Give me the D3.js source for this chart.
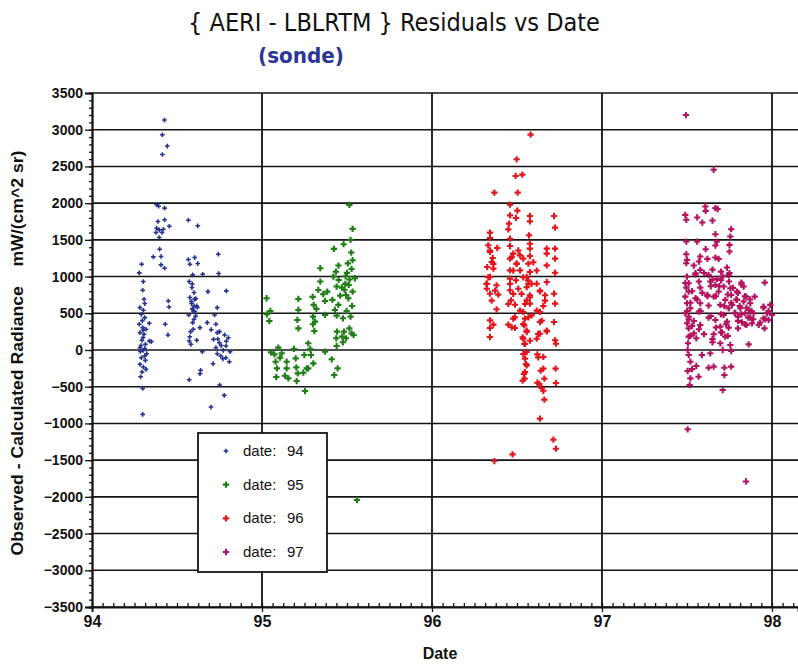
<!DOCTYPE html>
<html lang="en">
<head>
    <meta charset="UTF-8">
    <title>AERI - LBLRTM Residuals vs Date</title>
    <script src="https://cdn.jsdelivr.net/npm/d3@7/dist/d3.min.js"></script>
    <style>
        body { margin: 0; background: #fff; }
        svg { display: block; }
    </style>
</head>
<body>
<script>

    // categories (year of the measurement) and their colours
    let categories = ["94", "95", "96", "97"];
    let colors = ["#26328f", "#1f7d16", "#e4141c", "#b3125f"];

    // tick values
    let yTicks = [-3500, -3000, -2500, -2000, -1500, -1000, -500, 0, 500, 1000, 1500, 2000, 2500, 3000, 3500];
    let xTicks = [94, 95, 96, 97, 98];

    // residuals [date, value]
    let pts94 = [
        [94.426, 3131], [94.414, 2931], [94.443, 2777], [94.414, 2663],
        [94.38, 1977], [94.392, 1959], [94.427, 1932], [94.388, 1750], [94.427, 1773], [94.455, 1686], [94.38, 1659],
        [94.396, 1636], [94.42, 1645], [94.376, 1600], [94.412, 1600], [94.396, 1532],
        [94.567, 1768], [94.622, 1691], [94.398, 1373], [94.361, 1268], [94.406, 1273], [94.406, 1159], [94.427, 1114],
        [94.292, 1168], [94.278, 1050], [94.302, 932], [94.298, 814],
        [94.567, 1232], [94.604, 1259], [94.576, 1168], [94.622, 1177], [94.592, 1023], [94.651, 1032], [94.572, 932],
        [94.588, 850], [94.6, 782], [94.576, 714], [94.604, 691], [94.586, 632], [94.616, 600], [94.596, 532],
        [94.569, 477], [94.61, 464], [94.592, 373], [94.596, 282], [94.635, 305], [94.572, 123], [94.582, 77],
        [94.616, 132], [94.649, -23], [94.639, -277], [94.635, -323], [94.572, -405],
        [94.743, 1305], [94.745, 1041], [94.682, 795], [94.79, 805], [94.737, 577], [94.721, 477], [94.678, 373],
        [94.729, 350], [94.701, 277], [94.737, 236], [94.78, 205], [94.802, 168], [94.715, 145], [94.749, 100],
        [94.788, 55], [94.729, 32], [94.772, -5], [94.737, -50], [94.812, -23], [94.788, -105], [94.757, -82],
        [94.808, -159], [94.712, -186], [94.751, -477], [94.778, -618], [94.70, -777],
        [94.306, 691], [94.31, 632], [94.282, 577], [94.302, 541], [94.29, 486], [94.31, 441], [94.278, 350],
        [94.298, 305], [94.318, 282], [94.282, 236], [94.306, 214], [94.337, 123], [94.294, 132], [94.314, 77],
        [94.282, 32], [94.302, -5], [94.322, -50], [94.29, -105], [94.314, -141], [94.282, -195], [94.302, -232],
        [94.318, -264], [94.286, -364], [94.298, -523], [94.298, -877], [94.337, 364], [94.449, 668], [94.453, 586],
        [94.431, 350], [94.447, 205], [94.349, 114], [94.296, 400], [94.30, 170], [94.288, 60], [94.31, -80],
        [94.294, -300], [94.59, 560], [94.60, 420], [94.58, 250], [94.575, 180], [94.61, 700], [94.62, 580],
        [94.59, 900], [94.74, 150], [94.76, 60], [94.77, -120], [94.30, 270], [94.285, -20], [94.31, 20],
        [94.60, 600], [94.585, 660], [94.605, 520], [94.75, 250], [94.79, 120]
    ];

    let pts95 = [
        [95.514, 1977], [95.533, 1650], [95.521, 1500], [95.48, 1441], [95.423, 1377], [95.525, 1327], [95.533, 1223],
        [95.527, 1104], [95.435, 1068], [95.343, 1114], [95.492, 1004], [95.547, 977], [95.451, 954], [95.343, 932],
        [95.51, 886], [95.439, 864], [95.331, 818], [95.384, 795], [95.533, 795], [95.494, 750], [95.298, 723],
        [95.214, 695], [95.027, 705], [95.414, 682], [95.371, 668], [95.508, 705], [95.449, 614], [95.304, 614],
        [95.214, 545], [95.429, 545], [95.049, 532], [95.498, 532], [95.029, 486], [95.371, 477], [95.439, 468],
        [95.30, 455], [95.521, 455], [95.208, 409], [95.476, 432], [95.043, 395], [95.312, 386], [95.214, 295],
        [95.441, 250], [95.308, 259], [95.482, 250], [95.514, 295], [95.527, 227], [95.472, 182], [95.437, 159],
        [95.494, 159], [95.539, 205], [95.476, 105], [95.439, 55], [95.272, 91], [95.284, 14],
        [95.096, 32], [95.053, -32], [95.073, -59], [95.116, -45], [95.188, 14], [95.371, -23], [95.288, -68],
        [95.249, -68], [95.08, -159], [95.145, -159], [95.106, -105], [95.198, -114], [95.302, -182], [95.41, -127],
        [95.145, -250], [95.088, -250], [95.202, -236], [95.272, -250], [95.243, -309], [95.445, -250], [95.21, -318],
        [95.135, -350], [95.084, -368], [95.425, -341], [95.204, -423], [95.155, -386], [95.263, -250], [95.253, -559],
        [95.47, 850], [95.50, 1050], [95.46, 740], [95.53, 600], [95.42, 1000], [95.30, 350], [95.559, -2043],
        [95.49, 900], [95.515, 960], [95.45, 1150], [95.505, 1180], [95.485, 820], [95.36, 760], [95.32, 560]
    ];

    let pts96 = [
        [96.58, 2933], [96.498, 2597], [96.492, 2370], [96.531, 2388], [96.367, 2143], [96.504, 2143], [96.459, 1979],
        [96.502, 1898], [96.459, 1834], [96.576, 1825], [96.718, 1825], [96.494, 1798], [96.576, 1752], [96.453, 1721],
        [96.724, 1666], [96.449, 1643], [96.341, 1598], [96.571, 1562], [96.459, 1516], [96.341, 1525], [96.576, 1448],
        [96.331, 1426], [96.384, 1389], [96.459, 1416], [96.675, 1380], [96.724, 1380], [96.576, 1380], [96.341, 1335],
        [96.478, 1312], [96.518, 1289], [96.576, 1280], [96.675, 1312], [96.357, 1253], [96.537, 1244], [96.724, 1244],
        [96.459, 1244], [96.351, 1199], [96.498, 1176], [96.567, 1176], [96.675, 1153], [96.325, 1130], [96.361, 1108],
        [96.459, 1085], [96.518, 1085], [96.576, 1062], [96.724, 1053], [96.341, 994], [96.557, 994], [96.459, 972],
        [96.616, 903], [96.494, 949], [96.675, 926], [96.322, 903], [96.38, 881], [96.567, 903], [96.322, 835],
        [96.459, 813], [96.508, 835], [96.635, 799], [96.718, 767], [96.341, 767], [96.39, 754], [96.576, 745],
        [96.665, 745], [96.465, 676], [96.557, 676], [96.724, 631], [96.488, 617], [96.576, 631], [96.655, 599],
        [96.38, 554], [96.537, 518], [96.635, 518], [96.586, 472], [96.547, 427], [96.341, 404], [96.478, 427],
        [96.635, 381], [96.718, 381], [96.361, 345], [96.449, 345], [96.543, 336], [96.488, 300], [96.341, 300],
        [96.675, 254], [96.557, 245], [96.635, 222], [96.341, 177], [96.537, 154], [96.616, 154], [96.724, 132],
        [96.543, 86], [96.729, 86], [96.557, -27], [96.62, -59], [96.655, -95], [96.547, -118], [96.557, -209],
        [96.655, -254], [96.727, -254], [96.547, -300], [96.661, -390], [96.545, -390], [96.62, -445], [96.729, -449],
        [96.645, -518], [96.661, -676], [96.635, -935], [96.714, -1221], [96.729, -1344], [96.474, -1421], [96.367, -1512],
        [96.537, 990], [96.567, 945], [96.557, 855], [96.527, 764], [96.576, 718], [96.547, 627], [96.518, 536],
        [96.567, 445], [96.537, 355], [96.557, 264], [96.533, 173], [96.576, 127], [96.547, 82], [96.537, -55],
        [96.553, -191], [96.541, -327], [96.533, -418], [96.625, -100], [96.639, -282], [96.631, -464], [96.655, -555],
        [96.478, 1082], [96.498, 1173], [96.469, 1264], [96.508, 1355], [96.596, 1195], [96.616, 1082], [96.586, 900],
        [96.635, 809], [96.665, 673], [96.616, 536], [96.645, 400], [96.675, 264], [96.625, 218], [96.459, 900],
        [96.478, 764], [96.449, 627], [96.488, 445], [96.469, 309], [96.341, 1355], [96.361, 1173], [96.331, 990],
        [96.371, 809], [96.351, 673], [96.322, 900]
    ];

    let pts97 = [
        [97.494, 3200], [97.657, 2455], [97.608, 1955], [97.667, 1932], [97.68, 1920], [97.61, 1895], [97.49, 1840],
        [97.496, 1773], [97.56, 1805], [97.59, 1736], [97.65, 1763], [97.76, 1645], [97.667, 1577], [97.755, 1545],
        [97.496, 1477], [97.56, 1477], [97.676, 1477], [97.667, 1423], [97.75, 1432], [97.61, 1373], [97.75, 1341],
        [97.496, 1305], [97.578, 1273], [97.667, 1259], [97.686, 1241], [97.50, 1227], [97.62, 1241], [97.57, 1205],
        [97.496, 1182], [97.54, 1150], [97.735, 1123], [97.65, 1095], [97.578, 1091], [97.70, 1068], [97.55, 1045],
        [97.627, 1023], [97.745, 1023], [97.50, 1000], [97.676, 968], [97.70, 950], [97.57, 932], [97.637, 932],
        [97.747, 932], [97.51, 909], [97.82, 918], [97.957, 918], [97.667, 886], [97.716, 864], [97.496, 850],
        [97.578, 850], [97.755, 840], [97.833, 864], [97.794, 795], [97.51, 795], [97.686, 795], [97.62, 750],
        [97.657, 727], [97.76, 750], [97.847, 727], [97.898, 727], [97.49, 727], [97.55, 705], [97.725, 682],
        [97.794, 682], [97.833, 660], [97.872, 636], [97.50, 636], [97.578, 636], [97.696, 614], [97.765, 614],
        [97.95, 590], [97.99, 614], [97.627, 605], [97.52, 568], [97.745, 568], [97.814, 568], [97.863, 545],
        [97.57, 523], [97.49, 500], [97.784, 500], [97.843, 500], [97.892, 500], [97.97, 500], [97.716, 477],
        [98.0, 477], [97.51, 455], [97.627, 441], [97.80, 455], [97.872, 441], [97.95, 432], [97.667, 409],
        [97.54, 395], [97.735, 386], [97.823, 377], [97.98, 409], [97.50, 364], [97.578, 341], [97.85, 341],
        [97.882, 364], [97.922, 341], [97.696, 318], [97.956, 295], [97.745, 305], [97.51, 295], [97.80, 295],
        [97.54, 227], [97.706, 241], [97.657, 214], [97.51, 182], [97.725, 182], [97.555, 159], [97.696, 91],
        [97.506, 91], [97.863, 77], [97.755, 68], [97.65, 105], [97.504, 0], [97.71, 0], [97.51, -68],
        [97.588, -68], [97.637, -45], [97.76, -14], [97.52, -159], [97.504, -286], [97.555, -218], [97.53, -259],
        [97.627, -241], [97.657, -227], [97.72, -241], [97.76, -227], [97.72, -341], [97.568, -364], [97.52, -386],
        [97.516, -477], [97.71, -545], [97.504, -1080], [97.847, -1790],
        [97.77, 846], [97.80, 778], [97.82, 891], [97.84, 733], [97.87, 688], [97.79, 688], [97.76, 643],
        [97.81, 598], [97.85, 576], [97.88, 531], [97.78, 508], [97.82, 486], [97.86, 441], [97.89, 418],
        [97.80, 396], [97.84, 351], [97.93, 373], [97.96, 418], [97.98, 531], [97.95, 576], [97.74, 756],
        [97.72, 598], [97.70, 486], [97.73, 351], [97.69, 868], [97.67, 733], [97.65, 958], [97.64, 868],
        [97.62, 733], [97.59, 778], [97.56, 688], [97.52, 643], [97.50, 531], [97.51, 418], [97.53, 328],
        [97.57, 283], [97.52, 193], [97.60, 216], [97.65, 148], [97.70, 238], [97.74, 193], [97.67, 306],
        [97.64, 463], [97.58, 531], [97.55, 1026], [97.49, 913], [97.53, 801], [97.60, 1048], [97.71, 1003],
        [97.75, 1048]
    ];

    let series = [pts94, pts95, pts96, pts97];

    let W = 798, H = 666;
    let fontNum = "'Liberation Sans', Arial, sans-serif";
    let fontTitle = "'Liberation Sans Narrow', 'DejaVu Sans Condensed', sans-serif";

    let svg = d3.select("body").append("svg")
        .attr("width", W)
        .attr("height", H);

    // Skalen
    let x = d3.scaleLinear().domain([94, 98.153]).range([92, 798]);
    let y = d3.scaleLinear().domain([-3500, 3500]).range([607, 93]);

    // horizontal grid lines
    svg.append("g")
        .selectAll("line")
        .data(yTicks)
        .enter().append("line")
        .attr("x1", x(94)).attr("x2", W)
        .attr("y1", d => y(d)).attr("y2", d => y(d))
        .attr("stroke", "#141414")
        .attr("stroke-width", 1.6);

    // vertical grid lines
    svg.append("g")
        .selectAll("line")
        .data(xTicks.slice(1))
        .enter().append("line")
        .attr("x1", d => x(d)).attr("x2", d => x(d))
        .attr("y1", y(3500)).attr("y2", y(-3500))
        .attr("stroke", "#141414")
        .attr("stroke-width", 1.8);

    // y axis with minor ticks
    svg.append("g")
        .attr("transform", "translate(" + x(94) + ",0)")
        .call(d3.axisLeft(y).tickValues(d3.range(-3500, 3501, 100)).tickSize(3).tickFormat(""));
    svg.append("g")
        .attr("transform", "translate(" + x(94) + ",0)")
        .call(d3.axisLeft(y).tickValues(yTicks).tickSize(7).tickPadding(2).tickFormat(d3.format("d")))
        .call(g => g.selectAll("text").attr("font-size", 14).attr("fill", "#111")
            .attr("font-family", fontNum).attr("font-weight", "bold"));

    // x axis with minor ticks (pointing up into the plot)
    svg.append("g")
        .attr("transform", "translate(0," + y(-3500) + ")")
        .call(d3.axisTop(x).tickValues(d3.range(94, 98.16, 1 / 16)).tickSize(4).tickFormat(""))
        .call(g => g.select(".domain").remove());
    svg.append("g")
        .attr("transform", "translate(0," + y(-3500) + ")")
        .call(d3.axisBottom(x).tickValues(xTicks).tickSize(5).tickPadding(4).tickFormat(d3.format("d")))
        .call(g => g.selectAll("text").attr("font-size", 16).attr("fill", "#111")
            .attr("font-family", fontNum).attr("font-weight", "bold"));

    svg.selectAll(".domain").attr("stroke", "#141414").attr("stroke-width", 1.8);
    svg.selectAll(".tick line").attr("stroke", "#141414").attr("stroke-width", 1.3);

    // the points
    let cross = d3.symbol().type(d3.symbolCross);
    let markSize = [12, 22, 22, 22];
    series.forEach(function (pts, i) {
        svg.append("g")
            .selectAll("path")
            .data(pts)
            .enter().append("path")
            .attr("transform", d => "translate(" + x(d[0]) + "," + y(d[1]) + ")")
            .attr("d", cross.size(markSize[i])())
            .attr("fill", colors[i]);
    });

    // Titel
    svg.append("text")
        .attr("x", 394).attr("y", 31)
        .attr("text-anchor", "middle")
        .attr("font-family", fontTitle)
        .attr("font-size", 25)
        .attr("fill", "#111")
        .attr("textLength", 412)
        .attr("lengthAdjust", "spacingAndGlyphs")
        .text("{ AERI - LBLRTM }  Residuals  vs  Date");

    svg.append("text")
        .attr("x", 301).attr("y", 63)
        .attr("text-anchor", "middle")
        .attr("font-family", fontTitle)
        .attr("font-weight", "bold")
        .attr("font-size", 22)
        .attr("fill", "#2a3598")
        .attr("textLength", 86)
        .attr("lengthAdjust", "spacingAndGlyphs")
        .text("(sonde)");

    // Achsenbeschriftungen
    svg.append("text")
        .attr("transform", "translate(23,353) rotate(-90)")
        .attr("text-anchor", "middle")
        .attr("font-family", fontNum)
        .attr("font-weight", "bold")
        .attr("font-size", 17)
        .attr("fill", "#111")
        .attr("textLength", 405)
        .attr("lengthAdjust", "spacingAndGlyphs")
        .attr("xml:space", "preserve")
        .text("Observed - Calculated Radiance    mW/(cm^2 sr)");

    svg.append("text")
        .attr("x", 440).attr("y", 659)
        .attr("text-anchor", "middle")
        .attr("font-family", fontNum)
        .attr("font-weight", "bold")
        .attr("font-size", 16)
        .attr("fill", "#111")
        .text("Date");

    // Legende
    let legend = svg.append("g");
    legend.append("rect")
        .attr("x", 198).attr("y", 433)
        .attr("width", 129).attr("height", 139)
        .attr("fill", "#fff")
        .attr("stroke", "#141414")
        .attr("stroke-width", 1.8);

    let legY = d3.scalePoint().domain(categories).range([451, 552]);
    let rows = legend.selectAll("g.row")
        .data(categories)
        .enter().append("g")
        .attr("transform", d => "translate(0," + legY(d) + ")");
    rows.append("path")
        .attr("transform", "translate(226,0)")
        .attr("d", (d, i) => cross.size(markSize[i])())
        .attr("fill", (d, i) => colors[i]);
    rows.append("text")
        .attr("x", 243).attr("y", 5)
        .attr("font-family", fontNum)
        .attr("font-size", 15)
        .attr("fill", "#111")
        .text("date:");
    rows.append("text")
        .attr("x", 287).attr("y", 5)
        .attr("font-family", fontNum)
        .attr("font-size", 15)
        .attr("fill", "#111")
        .text(d => d);

</script>
</body>
</html>
